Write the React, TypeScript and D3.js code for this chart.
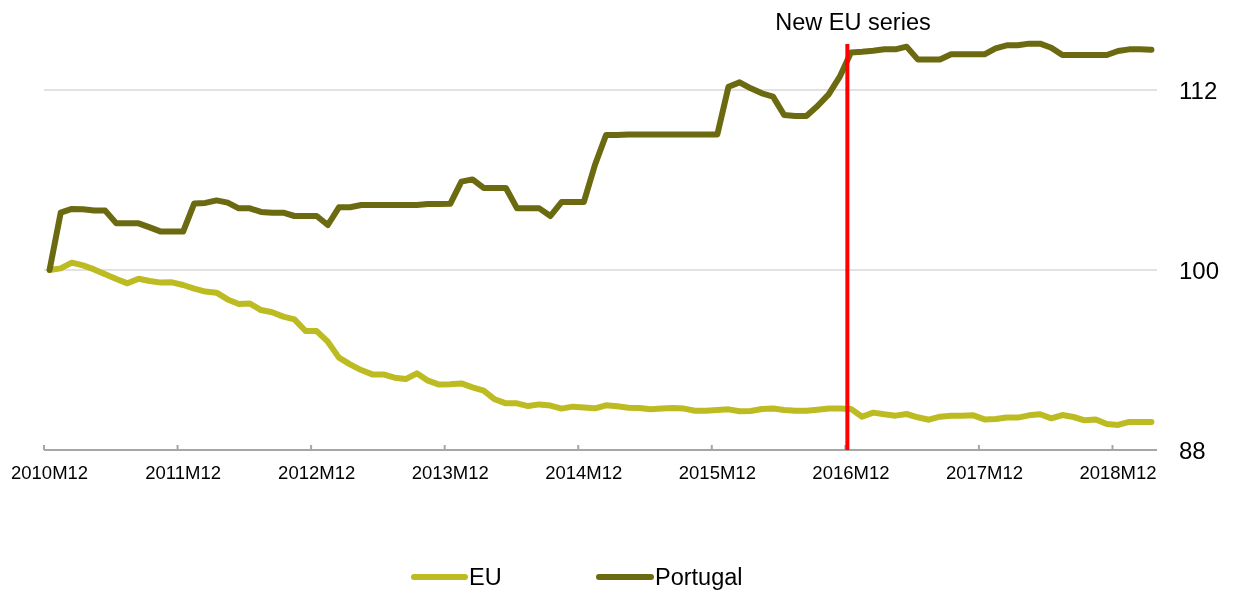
import React from "react";
import * as d3 from "d3";

// months 2010M12 .. 2019M03
const months: string[] = (() => {
  const out: string[] = [];
  let y = 2010;
  let m = 12;
  for (let i = 0; i < 100; i++) {
    out.push(`${y}M${String(m).padStart(2, "0")}`);
    m++;
    if (m > 12) {
      m = 1;
      y++;
    }
  }
  return out;
})();

const tickLabels = ["2010M12", "2011M12", "2012M12", "2013M12", "2014M12", "2015M12", "2016M12", "2017M12", "2018M12"];
const yTicks = [88, 100, 112];
const breakMonth = "2016M12";

const euValues = [
  100.0, 100.11, 100.49, 100.31, 100.04, 99.71, 99.4, 99.11, 99.42, 99.27, 99.16, 99.18,
  99.0, 98.76, 98.56, 98.49, 98.04, 97.73, 97.76, 97.33, 97.18, 96.89, 96.71, 95.93,
  95.93, 95.22, 94.16, 93.71, 93.33, 93.04, 93.04, 92.82, 92.73, 93.11, 92.62, 92.36,
  92.38, 92.44, 92.18, 91.96, 91.38, 91.11, 91.11, 90.93, 91.04, 90.96, 90.76, 90.89,
  90.84, 90.78, 90.98, 90.91, 90.82, 90.8, 90.71, 90.76, 90.8, 90.76, 90.62, 90.62,
  90.67, 90.71, 90.58, 90.6, 90.73, 90.76, 90.67, 90.62, 90.62, 90.69, 90.76, 90.76,
  90.74, 90.22, 90.49, 90.38, 90.29, 90.4, 90.18, 90.02, 90.22, 90.29, 90.29, 90.31,
  90.04, 90.07, 90.16, 90.16, 90.31, 90.38, 90.11, 90.33, 90.2, 89.98, 90.04, 89.73,
  89.67, 89.87, 89.87, 89.87,
];

const ptValues = [
  100.0, 103.82, 104.07, 104.05, 103.96, 103.96, 103.11, 103.11, 103.11, 102.84, 102.56, 102.56,
  102.56, 104.44, 104.47, 104.64, 104.49, 104.11, 104.11, 103.87, 103.82, 103.82, 103.6, 103.6,
  103.6, 103.0, 104.18, 104.18, 104.33, 104.33, 104.33, 104.33, 104.33, 104.33, 104.4, 104.4,
  104.41, 105.89, 106.04, 105.47, 105.47, 105.47, 104.11, 104.11, 104.11, 103.6, 104.53, 104.53,
  104.53, 107.0, 109.0, 109.0, 109.04, 109.04, 109.04, 109.04, 109.04, 109.04, 109.04, 109.04,
  109.04, 112.22, 112.51, 112.11, 111.78, 111.56, 110.33, 110.27, 110.27, 110.93, 111.71, 112.89,
  114.5, 114.55, 114.62, 114.71, 114.71, 114.89, 114.04, 114.04, 114.04, 114.38, 114.38, 114.38,
  114.38, 114.78, 114.98, 114.98, 115.09, 115.09, 114.82, 114.33, 114.33, 114.33, 114.33, 114.33,
  114.6, 114.71, 114.71, 114.69,
];

const EU_COLOR = "#bdbb22";
const PT_COLOR = "#6b6a10";

const App = () => {
  const width = 1235;
  const height = 590;
  const left = 44;
  const right = 1157;
  const top = 45;
  const bottom = 450;

  const x = d3.scaleBand<string>().domain(months).range([left, right]);
  const y = d3.scaleLinear().domain([88, 115]).range([bottom, top]);
  const cx = (m: string) => (x(m) as number) + x.bandwidth() / 2;

  const line = d3
    .line<number>()
    .x((d, i) => cx(months[i]))
    .y((d) => y(d))
    .curve(d3.curveLinear);

  const breakX = (x(breakMonth) as number) + 2;

  return (
    <div style={{ position: "fixed", left: 0, top: 0 }}>
      <svg width={width} height={height} style={{ display: "block", fontFamily: "'Liberation Sans', Arial, sans-serif" }}>
        {/* gridlines */}
        {yTicks
          .filter((t) => t !== 88)
          .map((t) => (
            <line key={t} x1={left} x2={right} y1={y(t)} y2={y(t)} stroke="#d9d9d9" strokeWidth={1.5} />
          ))}
        {/* x axis */}
        <line x1={left} x2={right} y1={bottom} y2={bottom} stroke="#a6a6a6" strokeWidth={2} />
        {tickLabels.map((t) => (
          <g key={t}>
            <line x1={x(t)} x2={x(t)} y1={bottom - 5} y2={bottom} stroke="#a6a6a6" strokeWidth={2} />
            <text x={cx(t)} y={479} textAnchor="middle" fontSize={18.5} fill="#000">
              {t}
            </text>
          </g>
        ))}
        {/* y labels right */}
        {yTicks.map((t) => (
          <text key={t} x={1179} y={y(t)} dy="0.36em" fontSize={24} fill="#000">
            {t}
          </text>
        ))}
        {/* series */}
        <path d={line(euValues) || ""} fill="none" stroke={EU_COLOR} strokeWidth={6} strokeLinejoin="round" strokeLinecap="round" />
        <path d={line(ptValues) || ""} fill="none" stroke={PT_COLOR} strokeWidth={6} strokeLinejoin="round" strokeLinecap="round" />
        {/* break marker */}
        <line x1={breakX} x2={breakX} y1={top - 1} y2={bottom} stroke="#ff0000" strokeWidth={4} />
        <text x={853} y={30} textAnchor="middle" fontSize={23.5} fill="#000">
          New EU series
        </text>
        {/* legend */}
        <line x1={414} x2={465} y1={577} y2={577} stroke={EU_COLOR} strokeWidth={6} strokeLinecap="round" />
        <text x={469} y={577} dy="0.36em" fontSize={23.5} fill="#000">
          EU
        </text>
        <line x1={599} x2={651} y1={577} y2={577} stroke={PT_COLOR} strokeWidth={6} strokeLinecap="round" />
        <text x={655} y={577} dy="0.36em" fontSize={23.5} fill="#000">
          Portugal
        </text>
      </svg>
    </div>
  );
};

export default App;
